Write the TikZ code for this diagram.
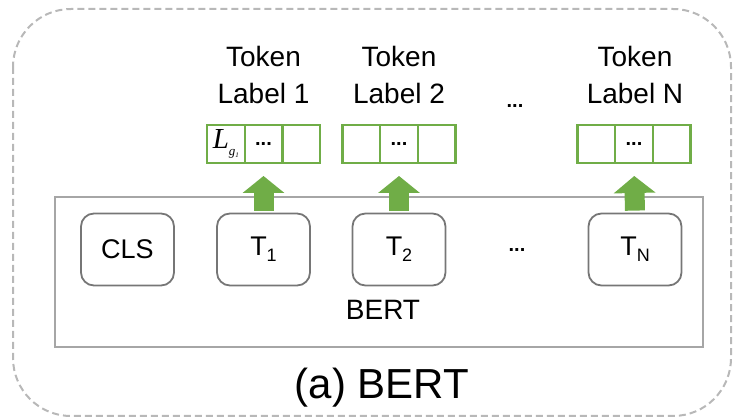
\documentclass[tikz,border=0pt]{standalone}
\usepackage{fontspec}
\setmainfont{Liberation Sans}
\newfontfamily\serifL{Liberation Serif}
\usetikzlibrary{arrows.meta,calc}
\definecolor{bgreen}{HTML}{70AD47}
\definecolor{boxgray}{HTML}{A6A6A6}
\definecolor{tokgray}{HTML}{767676}
\definecolor{dashgray}{HTML}{B8B8B8}
\tikzset{
  cell/.style={draw=bgreen,line width=2.4pt,minimum width=37.6pt,minimum height=37.6pt,inner sep=0pt,font=\fontsize{20}{20}\selectfont\bfseries},
  tokbox/.style={draw=tokgray,line width=1.8pt,rounded corners=13pt,minimum width=93pt,minimum height=72pt,inner sep=0pt,font=\fontsize{27}{27}\selectfont},
  lbl/.style={inner sep=0pt,font=\fontsize{28}{37}\selectfont},
  dots/.style={inner sep=0pt,font=\fontsize{20}{20}\selectfont\bfseries},
  uparrow/.style={bgreen,line width=20pt,-{Triangle[width=41pt,length=17pt]},shorten <=2pt,shorten >=12pt}
}
\newcommand{\Tsub}[1]{T\raisebox{-6pt}{\fontsize{18}{18}\selectfont #1}}
\begin{document}
\begin{tikzpicture}[x=1pt,y=-1pt]
\useasboundingbox (0,0) rectangle (734,419);
% outer dashed frame
\draw[dashgray,line width=2pt,dash pattern=on 7pt off 4pt,rounded corners=58pt] (13,9) rectangle (731,416);
% BERT box
\node[draw=boxgray,line width=2.4pt,minimum width=648pt,minimum height=150pt,inner sep=0pt] (bert) at (379,272) {};
\node[lbl] (bertlbl) at (383,310) {BERT};
% token boxes
\node[tokbox] (cls) at (127.5,249.5) {CLS};
\node[tokbox] (t1) at (263.5,249.5) {\Tsub{1}};
\node[tokbox] (t2) at (399,249.5) {\Tsub{2}};
\node[tokbox] (tn) at (635,249.5) {\Tsub{N}};
\node[dots] (tdots) at (517,250) {...};
% label cells
\node[cell] (c1b) at (263.5,144) {...};
\node[cell] (c1a) at ($(c1b)-(37.6,0)$) {\mdseries{\fontsize{29}{29}\serifL\itshape L}\raisebox{-7pt}{\fontsize{13}{13}\serifL\itshape g\raisebox{-2pt}{\fontsize{7}{7}\selectfont 1}}};
\node[cell] (c1c) at ($(c1b)+(37.6,0)$) {};
\node[cell] (c2b) at (399,144) {...};
\node[cell] (c2a) at ($(c2b)-(37.6,0)$) {};
\node[cell] (c2c) at ($(c2b)+(37.6,0)$) {};
\node[cell] (cnb) at (634,144) {...};
\node[cell] (cna) at ($(cnb)-(37.6,0)$) {};
\node[cell] (cnc) at ($(cnb)+(37.6,0)$) {};
% labels
\node[lbl,anchor=base] (l1) at (263.5,67) {\begin{tabular}[t]{@{}c@{}}Token\\Label 1\end{tabular}};
\node[lbl,anchor=base] (l2) at (399,67) {\begin{tabular}[t]{@{}c@{}}Token\\Label 2\end{tabular}};
\node[lbl,anchor=base] (ln) at (635,67) {\begin{tabular}[t]{@{}c@{}}Token\\Label N\end{tabular}};
\node[dots] (ldots) at (515,106) {...};
% arrows
\draw[uparrow] (t1.north) -- (c1b.south);
\draw[uparrow] (t2.north) -- (c2b.south);
\draw[uparrow] (tn.north) -- (cnb.south);
% caption
\node[inner sep=0pt,font=\fontsize{42}{42}\selectfont] (cap) at (382,388) {(a) BERT};
\end{tikzpicture}
\end{document}
